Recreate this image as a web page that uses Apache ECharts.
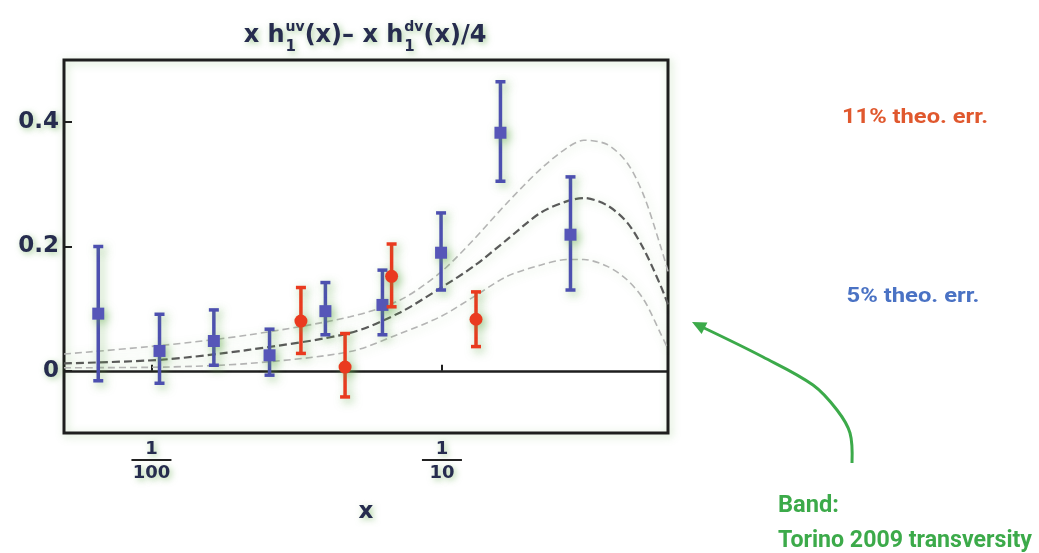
<!DOCTYPE html>
<html>
<head>
<meta charset="utf-8">
<script src="https://cdn.jsdelivr.net/npm/echarts@6/dist/echarts.min.js"></script>
<style>
  html, body { margin: 0; padding: 0; background: #ffffff; }
  #chart { width: 1039px; height: 553px; }
</style>
</head>
<body>
<div id="chart"></div>
<script>
// Extracted points: x (log scale), central value and error-bar ends
const blueX  = [0.00656, 0.01066, 0.0164, 0.0255, 0.0397, 0.0624, 0.0993, 0.159, 0.277];
const blueY  = [0.092, 0.032, 0.048, 0.025, 0.096, 0.106, 0.190, 0.383, 0.219];
const blueLo = [-0.016, -0.020, 0.009, -0.007, 0.058, 0.058, 0.130, 0.305, 0.130];
const blueHi = [0.200, 0.091, 0.098, 0.067, 0.142, 0.162, 0.254, 0.465, 0.312];

const redX  = [0.0327, 0.0464, 0.0671, 0.131];
const redY  = [0.080, 0.006, 0.152, 0.083];
const redLo = [0.028, -0.042, 0.103, 0.039];
const redHi = [0.134, 0.060, 0.204, 0.127];

// Torino 2009 transversity band (central curve and its edges)
const bandX       = [0.005, 0.0109, 0.0218, 0.0483, 0.0718, 0.0987, 0.1285, 0.1675, 0.218, 0.270, 0.308, 0.371, 0.435, 0.496, 0.566, 0.6];
const bandUpper   = [0.027, 0.041, 0.058, 0.087, 0.114, 0.158, 0.211, 0.270, 0.324, 0.359, 0.371, 0.364, 0.334, 0.281, 0.200, 0.160];
const bandCentral = [0.012, 0.018, 0.034, 0.061, 0.094, 0.133, 0.168, 0.211, 0.254, 0.273, 0.278, 0.266, 0.238, 0.195, 0.137, 0.107];
const bandLower   = [0.005, 0.006, 0.012, 0.031, 0.060, 0.087, 0.119, 0.152, 0.170, 0.179, 0.179, 0.168, 0.146, 0.114, 0.060, 0.035];

const yTicks = [0, 0.2, 0.4];
const yTickLabels = ['0', '0.2', '0.4'];

const titleParts = [
  { text: 'x h' }, { sub: '1', sup: 'uv' },
  { text: '(x)\u2013 x h' }, { sub: '1', sup: 'dv' },
  { text: '(x)/4' }
];
const note11 = '11% theo. err.';
const note5 = '5% theo. err.';
const bandNote = ['Band:', 'Torino 2009 transversity'];

const INK = '#262c4e';
const BLUE = '#4d50b0';
const RED = '#ea3a1f';
const GREEN = '#3caa4a';
const GLOW = 'rgba(96,170,72,0.55)';
const MAIN_FONT = 'DejaVu Sans';
const NOTE_FONT = 'Roboto';

const chart = echarts.init(document.getElementById('chart'), null, { renderer: 'canvas' });

function zip(xs, ys) { return xs.map((x, i) => [x, ys[i]]); }

function errorBars(name, xs, ys, lo, hi, color, marker) {
  return {
    type: 'custom',
    name: name,
    z: 5,
    data: xs.map((x, i) => [x, ys[i], lo[i], hi[i]]),
    encode: { x: 0, y: [1, 2, 3] },
    renderItem: function (params, api) {
      const x = api.value(0);
      const c = api.coord([x, api.value(1)]);
      const pLo = api.coord([x, api.value(2)]);
      const pHi = api.coord([x, api.value(3)]);
      const cap = 5;
      const glow = { shadowColor: GLOW, shadowBlur: 10, shadowOffsetX: 3, shadowOffsetY: 3 };
      const stroke = Object.assign({ stroke: color, lineWidth: 3.5 }, glow);
      const mark = marker === 'square'
        ? { type: 'rect', shape: { x: c[0] - 6, y: c[1] - 6, width: 12, height: 12 },
            style: Object.assign({ fill: '#5656b8' }, glow) }
        : { type: 'circle', shape: { cx: c[0], cy: c[1], r: 6.5 },
            style: Object.assign({ fill: color }, glow) };
      return {
        type: 'group',
        children: [
          { type: 'line', shape: { x1: c[0], y1: pLo[1], x2: c[0], y2: pHi[1] }, style: stroke },
          { type: 'line', shape: { x1: c[0] - cap, y1: pHi[1], x2: c[0] + cap, y2: pHi[1] }, style: stroke },
          { type: 'line', shape: { x1: c[0] - cap, y1: pLo[1], x2: c[0] + cap, y2: pLo[1] }, style: stroke },
          mark
        ]
      };
    }
  };
}

function bandLine(name, ys, color, width, dash) {
  return {
    type: 'line',
    name: name,
    data: zip(bandX, ys),
    smooth: 0.3,
    showSymbol: false,
    silent: true,
    z: 3,
    lineStyle: { color: color, width: width, type: dash,
                 shadowColor: 'rgba(96,170,72,0.35)', shadowBlur: 8, shadowOffsetX: 2, shadowOffsetY: 2 }
  };
}

// ---- text measuring helpers ----
const measureCtx = document.createElement('canvas').getContext('2d');
function textWidth(str, px, family) {
  measureCtx.font = 'bold ' + px + 'px "' + (family || MAIN_FONT) + '"';
  return measureCtx.measureText(str).width;
}

// ---- title built from pieces so that sub/superscripts stack ----
const TITLE_PX = 24, SUB_PX = 15, SUP_PX = 14;
const titleCenter = 365, titleMid = 36;
const titleGlow = { textShadowColor: GLOW, textShadowBlur: 6, textShadowOffsetX: 2, textShadowOffsetY: 2 };
const widths = titleParts.map(p => p.text !== undefined
  ? textWidth(p.text, TITLE_PX)
  : Math.max(textWidth(p.sub, SUB_PX), textWidth(p.sup, SUP_PX)) + 1);
let cursor = titleCenter - widths.reduce((a, b) => a + b, 0) / 2;
const titleElements = [];
function titleText(str, px, x, y) {
  return { type: 'text', x: x, y: y,
    style: Object.assign({ text: str, font: 'bold ' + px + 'px "' + MAIN_FONT + '"',
      fill: INK, align: 'left', verticalAlign: 'middle' }, titleGlow) };
}
titleParts.forEach((p, i) => {
  if (p.text !== undefined) {
    titleElements.push(titleText(p.text, TITLE_PX, cursor, titleMid));
  } else {
    titleElements.push(titleText(p.sub, SUB_PX, cursor + 1, titleMid + 11));
    titleElements.push(titleText(p.sup, SUP_PX, cursor + 1, titleMid - 9));
  }
  cursor += widths[i];
});

// ---- side notes, condensed horizontally ----
function note(str, px, color, x, y, align, boxWidth) {
  const sx = boxWidth / textWidth(str, px, NOTE_FONT);
  return { type: 'text', x: x, y: y, scaleX: sx,
    style: { text: str, font: 'bold ' + px + 'px "' + NOTE_FONT + '"', fill: color,
             align: align, verticalAlign: 'middle' } };
}

// ---- curved annotation arrow ----
const arrowPts = [[852, 463], [850, 433], [837, 410], [813, 385], [763, 357], [702, 327]];
const tip = [692, 322];
const prev = arrowPts[arrowPts.length - 1];
const dl = Math.hypot(tip[0] - prev[0], tip[1] - prev[1]);
const ux = (tip[0] - prev[0]) / dl, uy = (tip[1] - prev[1]) / dl;
const headLen = 14, headHalf = 6.5;
const bx = tip[0] - ux * headLen, by = tip[1] - uy * headLen;
const arrowHead = [tip, [bx - uy * headHalf, by + ux * headHalf], [bx + uy * headHalf, by - ux * headHalf]];

const option = {
  backgroundColor: '#ffffff',
  animation: false,
  grid: {
    left: 64, right: 371, top: 60, bottom: 120,
    show: true, borderColor: '#1e1e1e', borderWidth: 3, backgroundColor: 'transparent',
    shadowColor: 'rgba(96,170,72,0.35)', shadowBlur: 8, shadowOffsetX: 2, shadowOffsetY: 2
  },
  xAxis: {
    type: 'log', logBase: 10, min: 0.005, max: 0.6,
    name: 'x', nameLocation: 'middle', nameGap: 68,
    nameTextStyle: Object.assign({ fontFamily: MAIN_FONT, fontWeight: 'bold', fontSize: 23, color: INK }, titleGlow),
    axisLine: { show: false },
    splitLine: { show: false },
    minorTick: { show: false },
    axisTick: { inside: true, length: 6, lineStyle: { color: '#1e1e1e', width: 2 } },
    axisLabel: {
      margin: 8, showMinLabel: false, showMaxLabel: false,
      formatter: function (v) {
        return '{n|1}\n{b|\u00a0}\n{d|' + Math.round(1 / v) + '}';
      },
      rich: {
        n: Object.assign({ fontFamily: MAIN_FONT, fontWeight: 'bold', fontSize: 18, color: INK, lineHeight: 17, align: 'center' }, titleGlow),
        b: { width: 40, height: 2, lineHeight: 4, backgroundColor: '#222', align: 'center' },
        d: Object.assign({ fontFamily: MAIN_FONT, fontWeight: 'bold', fontSize: 18, color: INK, lineHeight: 22, align: 'center' }, titleGlow)
      }
    }
  },
  yAxis: {
    type: 'value', min: -0.1, max: 0.5,
    axisLine: { show: false },
    splitLine: { show: false },
    axisTick: { inside: true, length: 8, customValues: yTicks, lineStyle: { color: '#1e1e1e', width: 2 } },
    axisLabel: Object.assign({
      customValues: yTicks, margin: 5,
      fontFamily: MAIN_FONT, fontWeight: 'bold', fontSize: 23, color: INK,
      formatter: function (v) {
        const i = yTicks.indexOf(v);
        return i >= 0 ? yTickLabels[i] : String(v);
      }
    }, titleGlow)
  },
  series: [
    bandLine('upper', bandUpper, '#b4b4b4', 1.6, [7, 4]),
    Object.assign(bandLine('central', bandCentral, '#5a5a5a', 2.2, [8, 4]), {
      markLine: {
        silent: true, symbol: ['none', 'none'], label: { show: false },
        lineStyle: { color: '#1e1e1e', type: 'solid', width: 2.5 },
        data: [{ yAxis: 0 }]
      }
    }),
    bandLine('lower', bandLower, '#b4b4b4', 1.6, [7, 4]),
    errorBars('5%', blueX, blueY, blueLo, blueHi, BLUE, 'square'),
    errorBars('11%', redX, redY, redLo, redHi, RED, 'circle')
  ],
  graphic: titleElements.concat([
    note(note11, 20, '#e0582e', 915, 118, 'center', 146),
    note(note5, 20, '#4a72c4', 913, 297, 'center', 133),
    note(bandNote[0], 23, GREEN, 778, 506, 'left', 61),
    note(bandNote[1], 23, GREEN, 778, 541, 'left', 254),
    { type: 'polyline', shape: { points: arrowPts, smooth: 0.35 }, style: { stroke: GREEN, lineWidth: 3, fill: null } },
    { type: 'polygon', shape: { points: arrowHead }, style: { fill: GREEN } }
  ])
};

chart.setOption(option);
</script>
</body>
</html>
